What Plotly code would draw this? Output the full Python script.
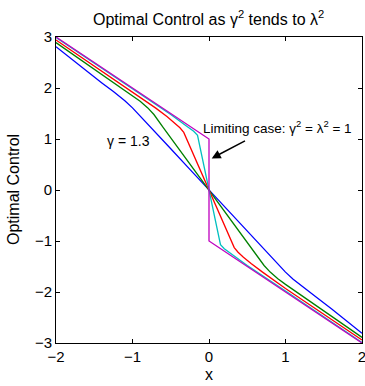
import plotly.graph_objects as go

# values
x_blue = [-2, -1.8, -1.6, -1.4, -1.25, -1.1, -1.0, -0.75, -0.5, -0.25, 0, 0.25, 0.5, 0.75, 1.0, 1.1, 1.25, 1.4, 1.6, 1.8, 2]
y_blue = [2.81, 2.57, 2.33, 2.10, 1.93, 1.75, 1.61, 1.22, 0.81, 0.405, 0, -0.405, -0.81, -1.22, -1.61, -1.75, -1.93, -2.10, -2.33, -2.57, -2.81]

x_green = [-2, -1.5, -1.3, -1.0, -0.9, -0.8, -0.72, -0.6, -0.4, -0.2, 0, 0.2, 0.4, 0.6, 0.72, 0.8, 0.9, 1.0, 1.3, 1.5, 2]
y_green = [2.89, 2.37, 2.17, 1.85, 1.74, 1.61, 1.48, 1.23, 0.82, 0.41, 0, -0.41, -0.82, -1.23, -1.48, -1.61, -1.74, -1.85, -2.17, -2.37, -2.89]

x_red = [-2, -1.5, -1.0, -0.7, -0.55, -0.45, -0.38, -0.33, -0.2, -0.1, 0, 0.1, 0.2, 0.33, 0.38, 0.45, 0.55, 0.7, 1.0, 1.5, 2]
y_red = [2.94, 2.43, 1.93, 1.61, 1.44, 1.32, 1.22, 1.13, 0.69, 0.345, 0, -0.345, -0.69, -1.13, -1.22, -1.32, -1.44, -1.61, -1.93, -2.43, -2.94]

x_cyan = [-2, -1.0, -0.5, -0.3, -0.2, -0.15, -0.1, -0.05, 0, 0.05, 0.1, 0.15, 0.2, 0.3, 0.5, 1.0, 2]
y_cyan = [2.99, 1.98, 1.48, 1.26, 1.15, 1.07, 0.713, 0.357, 0, -0.357, -0.713, -1.07, -1.15, -1.26, -1.48, -1.98, -2.99]

x_mag = [-2, 0, 0, 2]
y_mag = [3, 1, -1, -3]

x_ticks = [-2, -1, 0, 1, 2]
y_ticks = [-3, -2, -1, 0, 1, 2, 3]

series = [
    (x_blue, y_blue, "rgb(0,0,255)"),
    (x_green, y_green, "rgb(0,128,0)"),
    (x_red, y_red, "rgb(255,0,0)"),
    (x_cyan, y_cyan, "rgb(0,191,191)"),
    (x_mag, y_mag, "rgb(191,0,191)"),
]

fig = go.Figure()
for xs, ys, c in series:
    fig.add_trace(go.Scatter(x=xs, y=ys, mode="lines", line=dict(color=c, width=1.3),
                             showlegend=False, hoverinfo="skip"))

FAM = "Liberation Sans, Arial, sans-serif"
tickfont = dict(family=FAM, size=15, color="black")

W, H = 365, 386
L, T = 56, 37
PW, PH = 306, 306
R, B = W - L - PW, H - T - PH


def px2paper(px):
    return (px - L) / PW


def py2paper(py):
    return (T + PH - py) / PH


fig.update_layout(
    width=W, height=H,
    margin=dict(l=L, r=R, t=T, b=B, autoexpand=False),
    paper_bgcolor="white", plot_bgcolor="white",
    font=dict(family=FAM, size=15, color="black"),
    hovermode=False,
)
fig.update_xaxes(range=[-2, 2], tickvals=x_ticks, ticks="inside", ticklen=4, tickwidth=1, tickcolor="black",
                 showline=True, linecolor="black", linewidth=1, mirror="ticks", showgrid=False, zeroline=False,
                 tickfont=tickfont, automargin=False, ticklabeloverflow="allow")
fig.update_yaxes(range=[-3, 3], tickvals=y_ticks, ticks="inside", ticklen=4, tickwidth=1, tickcolor="black",
                 showline=True, linecolor="black", linewidth=1, mirror="ticks", showgrid=False, zeroline=False,
                 tickfont=tickfont, automargin=False, ticklabeloverflow="allow")

# title
fig.add_annotation(xref="paper", yref="paper", x=px2paper(208), y=py2paper(18),
                   text="Optimal Control as γ<sup>2</sup> tends to λ<sup>2</sup>", showarrow=False,
                   font=dict(family=FAM, size=16, color="black"), xanchor="center", yanchor="middle")
# axis titles
fig.add_annotation(xref="paper", yref="paper", x=px2paper(209), y=py2paper(374),
                   text="x", showarrow=False, font=dict(family=FAM, size=16, color="black"),
                   xanchor="center", yanchor="middle")
fig.add_annotation(xref="paper", yref="paper", x=px2paper(13), y=py2paper(190),
                   text="Optimal Control", showarrow=False, textangle=-90,
                   font=dict(family=FAM, size=16, color="black"), xanchor="center", yanchor="middle")

fig.add_annotation(x=0.895, y=1.235, text="Limiting case: γ<sup>2</sup> = λ<sup>2</sup> = 1", showarrow=False,
                   font=dict(size=13.5, family=FAM, color="black"))
fig.add_annotation(x=0.035, y=0.62, ax=0.49, ay=0.98, axref="x", ayref="y", xref="x", yref="y",
                   text="", showarrow=True, arrowhead=2, arrowsize=1.2, arrowwidth=1.5, arrowcolor="black")
fig.add_annotation(x=-1.046, y=0.96, text="γ = 1.3", showarrow=False,
                   font=dict(size=14, family=FAM, color="black"))

fig.write_html("out.html", config={"displayModeBar": False, "staticPlot": True},
               post_script="document.body.style.margin='0px';document.body.style.overflow='hidden';")
